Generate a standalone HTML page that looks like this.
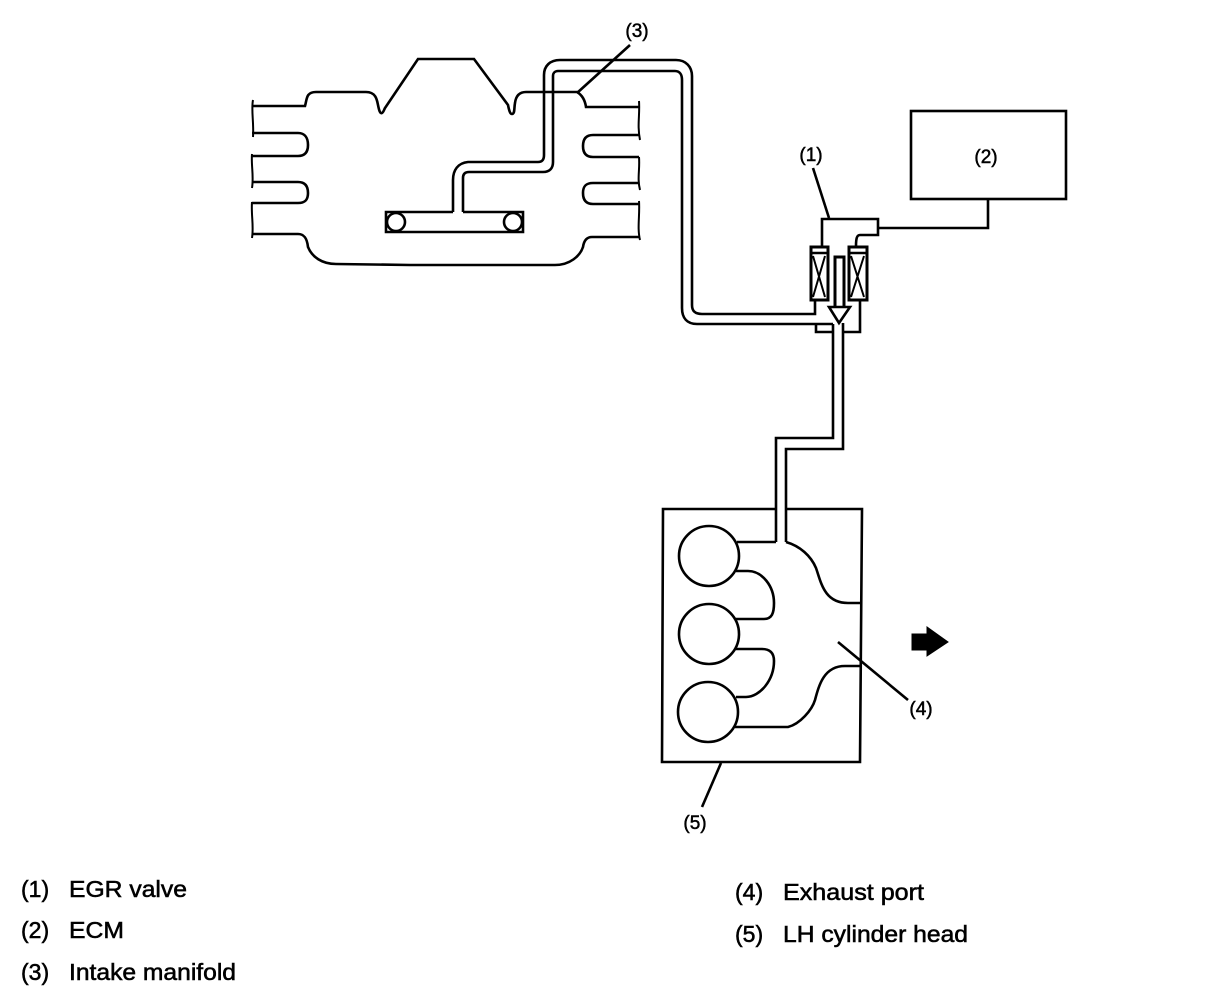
<!DOCTYPE html>
<html>
<head>
<meta charset="utf-8">
<style>
html,body{margin:0;padding:0;background:#fff;width:1216px;height:1004px;overflow:hidden}
svg{display:block}
text{font-family:"Liberation Sans",sans-serif;fill:#000}
.l{font-size:23px;stroke:#000;stroke-width:.55px}
.c{font-size:19px;stroke:#000;stroke-width:.5px;text-anchor:middle}
path,line,rect,circle,polyline{fill:none;stroke:#000;stroke-width:2.6}
.t{stroke-width:2}
</style>
</head>
<body>
<svg width="1216" height="1004" viewBox="0 0 1216 1004" xmlns="http://www.w3.org/2000/svg">
<!-- Engine outline -->
<path d="M252 106H305C307 99 306 92 316 92H366C376 92 377 100 378 105C379 110 380 114 382 113C383 113 384 110 385 108L418 59H474L508 105C509 110 510 114 512 114C515 114 514 108 515 103C516 95 520 92 526 92H577C582 95 585 100 586 107H639"/>
<path d="M252 133H298C305 133 308 138 308 145C308 152 305 156 298 156H252"/>
<path d="M252 182H298C305 182 308 186 308 193C308 200 305 203 298 203H252"/>
<path d="M252 234H298C304 234 307 238 308 247C312 257 322 264 336 264L410 265H555C570 265 580 256 583 247C584 240 587 237 592 237H639"/>
<path d="M639 135H593C586 135 583 139 583 146C583 153 586 157 593 157H639"/>
<path d="M639 183H593C586 183 583 186 583 193C583 200 586 204 593 204H639"/>
<!-- Jagged edges -->
<path class="t" d="M253 100C251 110 254 122 253 137M252 154C251 165 254 176 252 188M252 202C251 215 254 226 252 238"/>
<path class="t" d="M639 101C640 115 637 125 640 140M639 157C640 170 637 178 640 190M639 201C640 215 637 228 640 240"/>
<!-- Intake manifold pipe -->
<path d="M453 212V180C453 170 458 163 468 162H538C542 162 544 160 544 155V75C544 66 550 60 560 60H676C686 60 692 67 692 76V305C692 311 695 314 702 314H815V300"/>
<path d="M463 212V178C463 174 465 172 469 172H543C550 172 553 168 553 162V76C553 73 555 71 558 71H675C680 71 682 75 682 80V308C682 318 687 324 697 324H833M816 324V332H833"/>
<!-- Manifold bar -->
<path d="M453 212H386V232H523V212H463"/>
<circle cx="396" cy="222" r="9"/>
<circle cx="513" cy="222" r="9"/>
<line x1="577" y1="93" x2="630" y2="45"/>
<!-- ECM -->
<rect x="911" y="111" width="155" height="88"/>
<path d="M988 199V228H878"/>
<!-- EGR valve -->
<path d="M822 246V219H878V235H860C857 235 856 238 856 246"/>
<rect x="811" y="247" width="17" height="53" style="stroke-width:3"/>
<rect x="849" y="247" width="18" height="53" style="stroke-width:3"/>
<line x1="811" y1="253" x2="828" y2="253"/>
<line x1="849" y1="253" x2="867" y2="253"/>
<path class="t" d="M813 256L825 297M825 256L813 297M851 256L864 297M864 256L851 297"/>
<path d="M835 306V257H844V306" style="stroke-width:3"/>
<path d="M829 307H850L839 323Z"/>
<path d="M860 300V332H844"/>
<path d="M813 168L829 218"/>
<!-- Exhaust pipe -->
<path d="M833 324V438H776V542"/>
<path d="M843 323V449H786V542"/>
<!-- Cylinder head -->
<path d="M776 509H663L662 762H860L862 509H787"/>
<circle cx="709" cy="556" r="30"/>
<circle cx="709" cy="634" r="30"/>
<circle cx="708" cy="712" r="30"/>
<path d="M737 542H776"/>
<path d="M736 571H748C762 571 774 586 774 603C774 613 772 619 764 619H735"/>
<path d="M735 649H762C771 649 774 654 774 661C774 680 760 697 746 697H736"/>
<path d="M735 727H788C800 724 812 710 815 700C819 685 824 666 845 666H860"/>
<path d="M786 542C800 546 811 556 816 568C821 582 824 603 848 603H860"/>
<line x1="838" y1="642" x2="908" y2="700"/>
<line x1="721" y1="763" x2="702" y2="807"/>
<!-- Black arrow -->
<path d="M912 634H927V627L948 642L927 656V650H912Z" style="fill:#000;stroke:#000;stroke-width:1"/>
<!-- Callouts -->
<text class="c" x="637" y="37">(3)</text>
<text class="c" x="811" y="161">(1)</text>
<text class="c" x="986" y="163">(2)</text>
<text class="c" x="921" y="715">(4)</text>
<text class="c" x="695" y="829">(5)</text>
<!-- Legend -->
<text class="l" x="21" y="897">(1)</text>
<text class="l" x="69" y="897" textLength="118" lengthAdjust="spacingAndGlyphs">EGR valve</text>
<text class="l" x="21" y="938">(2)</text>
<text class="l" x="69" y="938" textLength="55" lengthAdjust="spacingAndGlyphs">ECM</text>
<text class="l" x="21" y="980">(3)</text>
<text class="l" x="69" y="980" textLength="167" lengthAdjust="spacingAndGlyphs">Intake manifold</text>
<text class="l" x="735" y="900">(4)</text>
<text class="l" x="783" y="900" textLength="141" lengthAdjust="spacingAndGlyphs">Exhaust port</text>
<text class="l" x="735" y="942">(5)</text>
<text class="l" x="783" y="942" textLength="185" lengthAdjust="spacingAndGlyphs">LH cylinder head</text>
</svg>
</body>
</html>
